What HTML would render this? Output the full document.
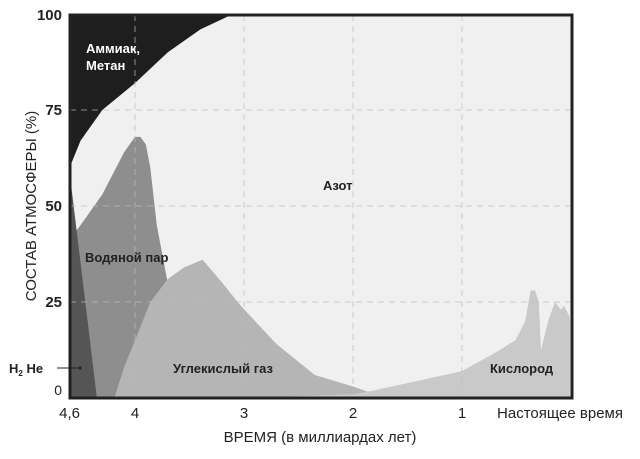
<!DOCTYPE html>
<html><head><meta charset="utf-8"><style>
body{margin:0;background:#fff;width:640px;height:454px;overflow:hidden;font-family:"Liberation Sans",sans-serif}
svg text{font-family:"Liberation Sans",sans-serif}
</style></head><body>
<svg id="chart" width="640" height="454" viewBox="0 0 640 454" xmlns="http://www.w3.org/2000/svg">
<g id="areas"></g>
<g id="grid"></g>
<rect x="70" y="15" width="502" height="383" fill="none" stroke="#222" stroke-width="3"/>
<g id="yticks"></g><g id="xticks"></g>
<text transform="translate(36,206) rotate(-90)" text-anchor="middle" font-size="15" fill="#222">СОСТАВ АТМОСФЕРЫ (%)</text>
<text x="320" y="442" text-anchor="middle" font-size="15" fill="#222">ВРЕМЯ (в миллиардах лет)</text>
<text x="86" y="53" font-size="13" font-weight="bold" fill="#fff">Аммиак,</text>
<text x="86" y="70" font-size="13" font-weight="bold" fill="#fff">Метан</text>
<text x="323" y="190" font-size="13" font-weight="bold" fill="#222">Азот</text>
<text x="85" y="262" font-size="13" font-weight="bold" fill="#222">Водяной пар</text>
<text x="173" y="373" font-size="13" font-weight="bold" fill="#222">Углекислый газ</text>
<text x="490" y="373" font-size="13" font-weight="bold" fill="#222">Кислород</text>
<text x="9" y="373" font-size="13" font-weight="bold" fill="#222">H<tspan font-size="8" dy="3">2</tspan><tspan dy="-3"> He</tspan></text>
<line x1="57" y1="368" x2="79" y2="368" stroke="#222" stroke-width="1"/>
<circle cx="80" cy="368" r="1.5" fill="#222"/>
</svg>
<script>
const yTicks=[0,25,50,75,100];
const xTicks=[4.6,4,3,2,1];
const xTickLabels=["4,6","4","3","2","1"];
const methaneT=[4.6,4.5,4.3,4.0,3.7,3.4,3.1];
const methaneV=[60,67,75,82,90,96,100];
const waterT=[4.58,4.5,4.3,4.1,4.0,3.95,3.9,3.86,3.8,3.7,3.6,3.5,3.4];
const waterV=[42,45,53,64,68,68,66,60,45,30,20,10,0];
const h2T=[4.6,4.58,4.35];
const h2V=[59,54,0];
const co2T=[4.19,4.1,4.0,3.86,3.7,3.55,3.38,3.2,3.03,2.7,2.35,2.0,1.8,1.7];
const co2V=[0,8,15,25,31,34,36,30,24,14,6,3,1,0];
const o2T=[3.0,2.0,1.8,1.0,0.65,0.6,0.51,0.42,0.37,0.33,0.295,0.275,0.21,0.147,0.12,0.092,0.064,0.01];
const o2V=[0,1,2,7,12.5,13.5,15,20,28,28,25,12.5,20,25,24,23,24,21];
const X=t=>571-109*t, Y=v=>398-3.84*v;
const NS="http://www.w3.org/2000/svg";
function mk(tag,attrs,parent){const e=document.createElementNS(NS,tag);for(const k in attrs)e.setAttribute(k,attrs[k]);parent.appendChild(e);return e;}
const A=document.getElementById('areas');
const bg=mk('rect',{x:70,y:15,width:502,height:383,fill:'#f0f0f0'},A);


function area(T,V,fill,name,top){
 let d='M'+X(T[0])+','+(top?Y(100):Y(0));
 for(let i=0;i<T.length;i++)d+=' L'+X(T[i]).toFixed(1)+','+Y(V[i]).toFixed(1);
 d+=' L'+X(T[T.length-1])+','+(top?Y(100):Y(0))+' Z';
 const p=mk('path',{d:d,fill:fill},A);
 
 
}
area(methaneT,methaneV,'#1e1e1e','ammonia-methane-area',true);
area(waterT,waterV,'#8e8e8e','water-vapor-area',false);
area(h2T,h2V,'#555','h2-he-area',false);
area(co2T,co2V,'#b5b5b5','co2-area',false);
area(o2T,o2V,'#c9c9c9','oxygen-area',false);
const G=document.getElementById('grid');
[25,50,75].forEach(v=>{const l=mk('line',{x1:70,x2:572,y1:Y(v),y2:Y(v),stroke:'#bbb','stroke-dasharray':'6,5','stroke-opacity':0.7},G);

});
[4,3,2,1].forEach(t=>{const l=mk('line',{x1:X(t),x2:X(t),y1:15,y2:398,stroke:'#bbb','stroke-dasharray':'6,5','stroke-opacity':0.7},G);

});
const YT=document.getElementById('yticks');
yTicks.forEach(v=>{const t=mk('text',{x:v===0?62:62,y:Y(v)+5-(v===0?8:0)+(v===100?1:0),'text-anchor':'end','font-size':v===0?14:15,'font-weight':v===0?'normal':'bold',fill:'#222'},YT);t.textContent=v;

});
const XT=document.getElementById('xticks');
xTicks.forEach((v,i)=>{const t=mk('text',{x:X(v),y:418,'text-anchor':'middle','font-size':15,fill:'#222'},XT);t.textContent=xTickLabels[i];

});
const pt=mk('text',{x:560,y:418,'text-anchor':'middle','font-size':15,fill:'#222'},XT);pt.textContent='Настоящее время';


</script>
</body></html>
